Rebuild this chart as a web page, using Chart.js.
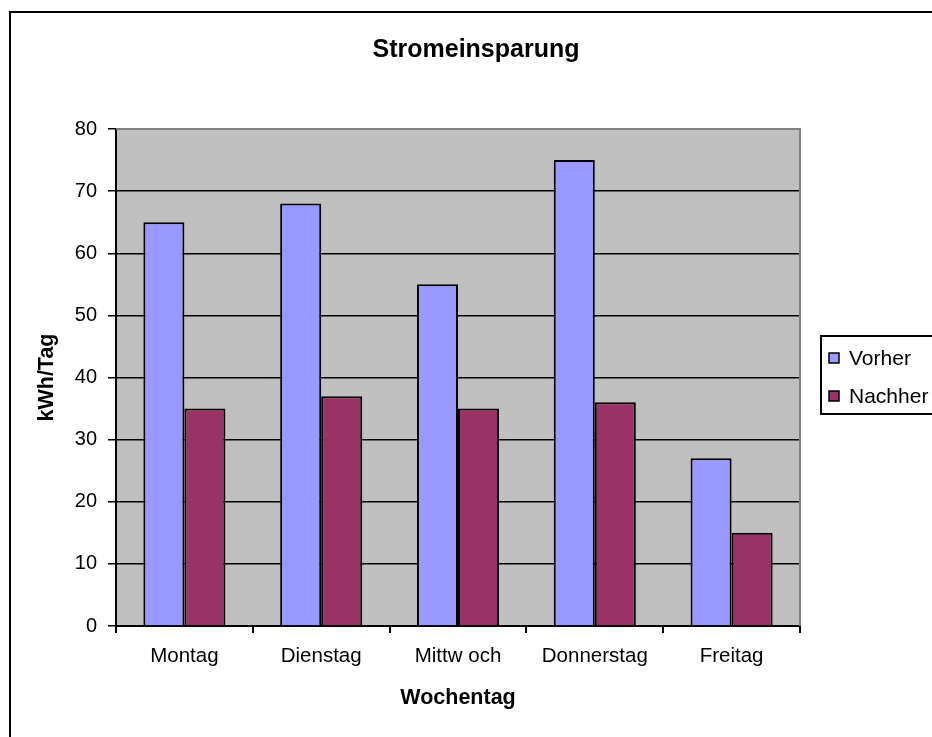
<!DOCTYPE html>
<html lang="de">
<head>
<meta charset="utf-8">
<title>Stromeinsparung</title>
<script src="https://cdn.jsdelivr.net/npm/chart.js@4.4.1/dist/chart.umd.min.js"></script>
<style>
  html, body { margin: 0; padding: 0; background: #fff; }
  #wrap { width: 932px; height: 737px; }
</style>
</head>
<body>
<div id="wrap"><canvas id="stromChart" width="932" height="737"></canvas></div>
<script>
// Daten
const wochentage = ['Montag', 'Dienstag', 'Mittw och', 'Donnerstag', 'Freitag'];
const vorher = [65, 68, 55, 75, 27];
const nachher = [35, 37, 35, 36, 15];
const serienNamen = ['Vorher', 'Nachher'];
const serienFarben = ['#9999FF', '#993366'];
const titelText = 'Stromeinsparung';
const yTitel = 'kWh/Tag';
const xTitel = 'Wochentag';

const schrift = "'Liberation Sans', Arial, sans-serif";

// Excel-Look: Rahmen, grauer Plotbereich, Titel und Legende
const excelDeko = {
  id: 'excelDeko',
  beforeDraw(chart) {
    const { ctx, chartArea: a } = chart;
    ctx.save();
    ctx.fillStyle = '#fff';
    ctx.fillRect(0, 0, chart.width, chart.height);
    ctx.strokeStyle = '#000';
    ctx.lineWidth = 2;
    ctx.strokeRect(10, 12, 1000, 1000);
    ctx.fillStyle = '#C0C0C0';
    ctx.fillRect(a.left, a.top, a.right - a.left, a.bottom - a.top);
    ctx.restore();
  },
  afterDatasetsDraw(chart) {
    const { ctx, chartArea: a } = chart;
    ctx.save();
    ctx.strokeStyle = '#808080';
    ctx.lineWidth = 2;
    ctx.beginPath();
    ctx.moveTo(a.left, a.top);
    ctx.lineTo(a.right, a.top);
    ctx.lineTo(a.right, a.bottom);
    ctx.stroke();
    ctx.restore();
  },
  afterDraw(chart) {
    const { ctx } = chart;
    ctx.save();
    // Titel
    ctx.fillStyle = '#000';
    ctx.font = 'bold 25px ' + schrift;
    ctx.textAlign = 'center';
    ctx.textBaseline = 'middle';
    ctx.fillText(titelText, 476, 50);

    // Legende
    ctx.strokeStyle = '#000';
    ctx.lineWidth = 2;
    ctx.strokeRect(821, 336, 200, 78);
    ctx.font = '21px ' + schrift;
    ctx.textAlign = 'left';
    chart.data.datasets.forEach((ds, i) => {
      const y = 358 + i * 38;
      ctx.fillStyle = ds.backgroundColor;
      ctx.fillRect(829, y - 5, 10, 10);
      ctx.lineWidth = 1.5;
      ctx.strokeRect(829, y - 5, 10, 10);
      ctx.fillStyle = '#000';
      ctx.fillText(ds.label, 849, y + 1);
    });
    ctx.restore();
  }
};

new Chart(document.getElementById('stromChart'), {
  type: 'bar',
  data: {
    labels: wochentage,
    datasets: [
      {
        label: serienNamen[0],
        data: vorher,
        backgroundColor: serienFarben[0],
        borderColor: '#000',
        borderWidth: 2
      },
      {
        label: serienNamen[1],
        data: nachher,
        backgroundColor: serienFarben[1],
        borderColor: '#000',
        borderWidth: 2
      }
    ]
  },
  options: {
    responsive: false,
    animation: false,
    layout: { padding: { left: 0, right: 132, top: 129, bottom: 0 } },
    datasets: {
      bar: { categoryPercentage: 0.6, barPercentage: 1.0 }
    },
    plugins: {
      legend: { display: false },
      title: { display: false },
      tooltip: { enabled: false }
    },
    scales: {
      x: {
        afterFit: scale => { scale.height = 111; },
        grid: {
          display: true,
          drawOnChartArea: false,
          drawTicks: true,
          tickLength: 7,
          color: '#000',
          lineWidth: 2
        },
        border: { display: true, color: '#000', width: 2 },
        ticks: {
          color: '#000',
          padding: 11,
          maxRotation: 0,
          font: { family: schrift, size: 20.5 }
        },
        title: {
          display: true,
          text: xTitel,
          color: '#000',
          font: { family: schrift, size: 21.5, weight: 'bold' },
          padding: { top: 0, bottom: 26 }
        }
      },
      y: {
        min: 0,
        max: 80,
        afterFit: scale => { scale.width = 116; },
        ticks: {
          stepSize: 10,
          color: '#000',
          padding: 11,
          font: { family: schrift, size: 20 }
        },
        grid: {
          color: '#000',
          lineWidth: 1.5,
          tickLength: 8
        },
        border: { display: true, color: '#000', width: 2 },
        title: {
          display: true,
          text: yTitel,
          color: '#000',
          font: { family: schrift, size: 21.5, weight: 'bold' },
          padding: { top: 34, bottom: 0 }
        }
      }
    }
  },
  plugins: [excelDeko]
});
</script>
</body>
</html>
